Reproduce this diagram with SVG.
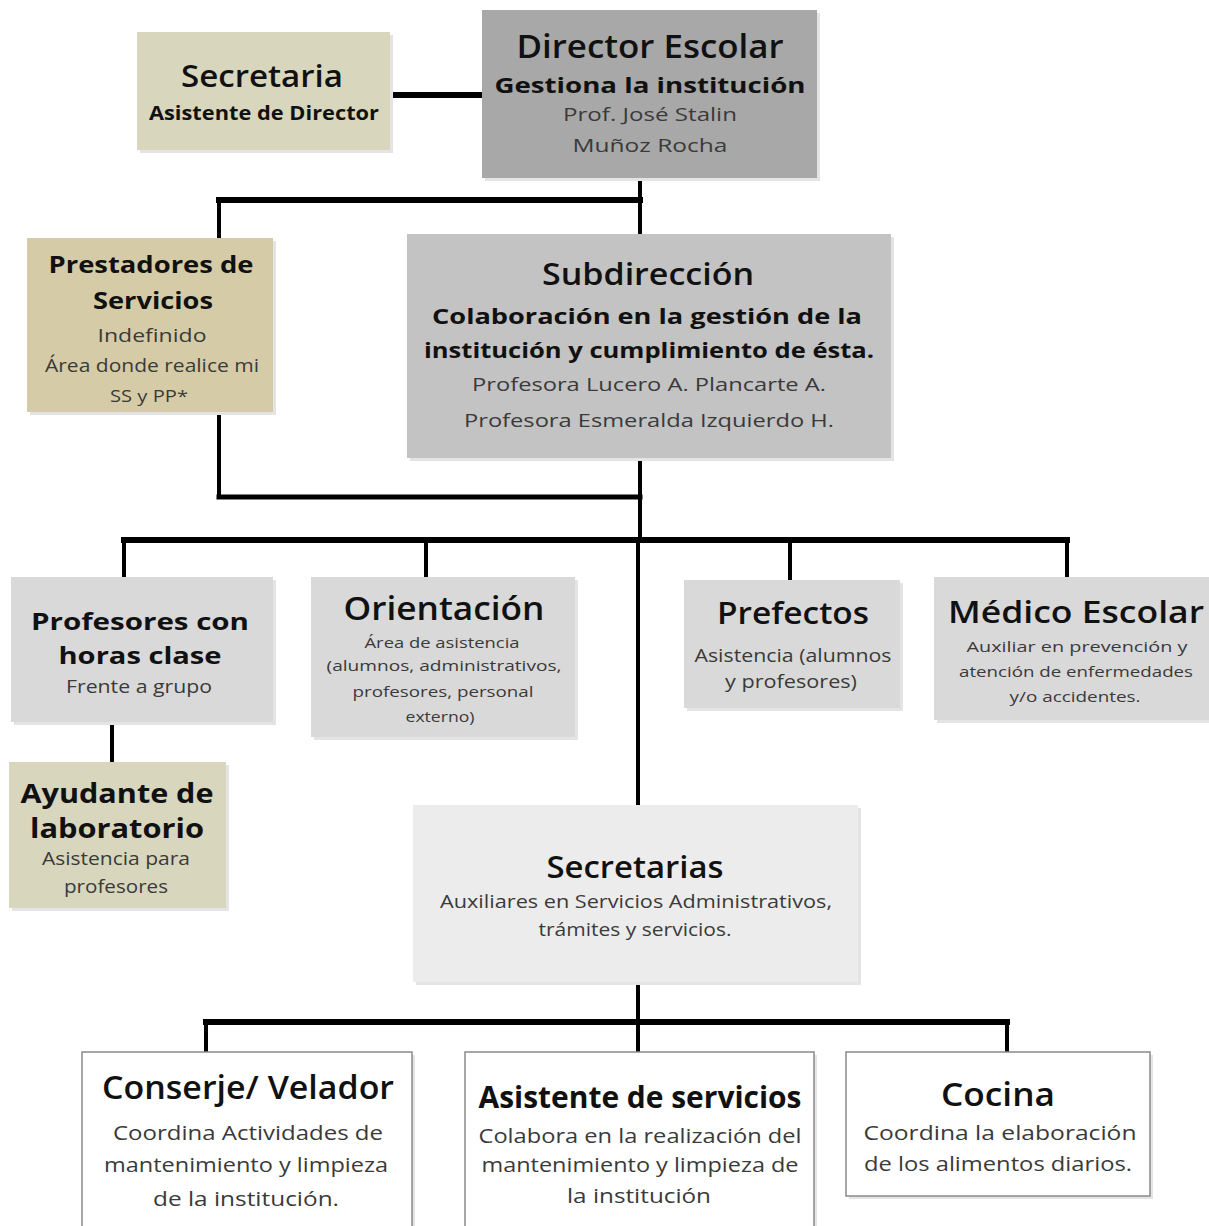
<svg xmlns="http://www.w3.org/2000/svg" width="1209" height="1226" viewBox="0 0 1209 1226">
<style>
.bg{fill:#ffffff}
.conn line{stroke:#000;stroke-width:5;stroke-linecap:square}
.conn .thin{stroke-width:4}
.t{font-family:"Open Sans","Noto Sans","Liberation Sans",sans-serif;text-anchor:middle}
.h{fill:#111;font-size:30px;font-weight:600}
.hb{fill:#111;font-size:24px;font-weight:bold}
.b{fill:#3a3a3a;font-size:19px}
.s{fill:#3a3a3a;font-size:15px}
.tan{fill:#d8d6bd}
.tan2{fill:#d5cca7}
.dark{fill:#a8a8a8}
.mid{fill:#c3c3c3}
.lg{fill:#d9d9d9}
.xl{fill:#ececec}
.wh{fill:#ffffff;stroke:#8a8a8a;stroke-width:1.5}
.sh{fill:#e4e4e4}
</style>
<rect class="bg" x="0" y="0" width="1209" height="1226"/>
<g id="connectors" class="conn">
<line x1="390" y1="95" x2="482" y2="95" style="stroke-width:6"/>
<line x1="640" y1="178" x2="640" y2="234" class="thin"/>
<line x1="219" y1="200" x2="640" y2="200" style="stroke-width:6"/>
<line x1="219" y1="200" x2="219" y2="238" class="thin"/>
<line x1="219" y1="412" x2="219" y2="497" class="thin"/>
<line x1="219" y1="497" x2="640" y2="497"/>
<line x1="640" y1="458" x2="640" y2="540" class="thin"/>
<line x1="124" y1="540" x2="1067" y2="540" style="stroke-width:6"/>
<line x1="124" y1="540" x2="124" y2="577" class="thin"/>
<line x1="426" y1="540" x2="426" y2="577" class="thin"/>
<line x1="790" y1="540" x2="790" y2="580" class="thin"/>
<line x1="1067" y1="540" x2="1067" y2="577" class="thin"/>
<line x1="638" y1="540" x2="638" y2="805" class="thin"/>
<line x1="112" y1="722" x2="112" y2="762" class="thin"/>
<line x1="638" y1="982" x2="638" y2="1052" class="thin"/>
<line x1="206" y1="1022" x2="1007" y2="1022" style="stroke-width:6"/>
<line x1="206" y1="1022" x2="206" y2="1052" class="thin"/>
<line x1="1007" y1="1022" x2="1007" y2="1052" class="thin"/>
</g>
<g id="secretaria">
<rect class="sh" x="140" y="35" width="253" height="118"/>
<rect class="tan" x="137" y="32" width="253" height="118"/>
<text class="t h" x="262" y="87" textLength="162" lengthAdjust="spacingAndGlyphs">Secretaria</text>
<text class="t hb" x="264" y="120" style="font-size:20px" textLength="230" lengthAdjust="spacingAndGlyphs">Asistente de Director</text>
</g>
<g id="director">
<rect class="sh" x="485" y="13" width="335" height="168"/>
<rect class="dark" x="482" y="10" width="335" height="168"/>
<text class="t h" x="650" y="58" style="font-size:32px" textLength="267" lengthAdjust="spacingAndGlyphs">Director Escolar</text>
<text class="t hb" x="650" y="93" style="font-size:22px" textLength="311" lengthAdjust="spacingAndGlyphs">Gestiona la institución</text>
<text class="t b" x="650" y="121" textLength="174" lengthAdjust="spacingAndGlyphs">Prof. José Stalin</text>
<text class="t b" x="650" y="152" textLength="155" lengthAdjust="spacingAndGlyphs">Muñoz Rocha</text>
</g>
<g id="prestadores">
<rect class="sh" x="30" y="241" width="246" height="174"/>
<rect class="tan2" x="27" y="238" width="246" height="174"/>
<text class="t hb" x="151" y="273" textLength="205" lengthAdjust="spacingAndGlyphs">Prestadores de</text>
<text class="t hb" x="153" y="309" textLength="120" lengthAdjust="spacingAndGlyphs">Servicios</text>
<text class="t b" x="152" y="342" textLength="109" lengthAdjust="spacingAndGlyphs">Indefinido</text>
<text class="t b" x="152" y="372" textLength="214" lengthAdjust="spacingAndGlyphs">Área donde realice mi</text>
<text class="t b" x="149" y="402" style="font-size:17px" textLength="78" lengthAdjust="spacingAndGlyphs">SS y PP*</text>
</g>
<g id="subdireccion">
<rect class="sh" x="410" y="237" width="484" height="224"/>
<rect class="mid" x="407" y="234" width="484" height="224"/>
<text class="t h" x="648" y="285" textLength="212" lengthAdjust="spacingAndGlyphs">Subdirección</text>
<text class="t hb" x="647" y="324" style="font-size:22px" textLength="430" lengthAdjust="spacingAndGlyphs">Colaboración en la gestión de la</text>
<text class="t hb" x="649" y="358" style="font-size:22px" textLength="450" lengthAdjust="spacingAndGlyphs">institución y cumplimiento de ésta.</text>
<text class="t b" x="649" y="391" textLength="354" lengthAdjust="spacingAndGlyphs">Profesora Lucero A. Plancarte A.</text>
<text class="t b" x="649" y="427" textLength="370" lengthAdjust="spacingAndGlyphs">Profesora Esmeralda Izquierdo H.</text>
</g>
<g id="profesores">
<rect class="sh" x="14" y="580" width="262" height="145"/>
<rect class="lg" x="11" y="577" width="262" height="145"/>
<text class="t hb" x="140" y="630" textLength="218" lengthAdjust="spacingAndGlyphs">Profesores con</text>
<text class="t hb" x="140" y="664" textLength="163" lengthAdjust="spacingAndGlyphs">horas clase</text>
<text class="t b" x="139" y="693" textLength="146" lengthAdjust="spacingAndGlyphs">Frente a grupo</text>
</g>
<g id="orientacion">
<rect class="sh" x="314" y="580" width="264" height="160"/>
<rect class="lg" x="311" y="577" width="264" height="160"/>
<text class="t h" x="444" y="620" style="font-size:32px" textLength="201" lengthAdjust="spacingAndGlyphs">Orientación</text>
<text class="t s" x="442" y="648" textLength="155" lengthAdjust="spacingAndGlyphs">Área de asistencia</text>
<text class="t s" x="444" y="671" textLength="235" lengthAdjust="spacingAndGlyphs">(alumnos, administrativos,</text>
<text class="t s" x="443" y="697" textLength="181" lengthAdjust="spacingAndGlyphs">profesores,  personal</text>
<text class="t s" x="440" y="722" textLength="69" lengthAdjust="spacingAndGlyphs">externo)</text>
</g>
<g id="prefectos">
<rect class="sh" x="687" y="583" width="216" height="128"/>
<rect class="lg" x="684" y="580" width="216" height="128"/>
<text class="t h" x="793" y="624" textLength="152" lengthAdjust="spacingAndGlyphs">Prefectos</text>
<text class="t b" x="793" y="662" textLength="197" lengthAdjust="spacingAndGlyphs">Asistencia (alumnos</text>
<text class="t b" x="791" y="688" textLength="132" lengthAdjust="spacingAndGlyphs">y profesores)</text>
</g>
<g id="medico">
<rect class="sh" x="937" y="580" width="272" height="143"/>
<rect class="lg" x="934" y="577" width="275" height="143"/>
<text class="t h" x="1076" y="623" textLength="256" lengthAdjust="spacingAndGlyphs">Médico Escolar</text>
<text class="t s" x="1077" y="652" textLength="221" lengthAdjust="spacingAndGlyphs">Auxiliar en prevención  y</text>
<text class="t s" x="1076" y="677" textLength="234" lengthAdjust="spacingAndGlyphs">atención de enfermedades</text>
<text class="t s" x="1075" y="702" textLength="131" lengthAdjust="spacingAndGlyphs">y/o accidentes.</text>
</g>
<g id="ayudante">
<rect class="sh" x="12" y="765" width="217" height="146"/>
<rect class="tan" x="9" y="762" width="217" height="146"/>
<text class="t hb" x="117" y="803" style="font-size:26px" textLength="193" lengthAdjust="spacingAndGlyphs">Ayudante de</text>
<text class="t hb" x="117" y="838" style="font-size:26px" textLength="174" lengthAdjust="spacingAndGlyphs">laboratorio</text>
<text class="t b" x="116" y="865" textLength="148" lengthAdjust="spacingAndGlyphs">Asistencia para</text>
<text class="t b" x="116" y="893" textLength="104" lengthAdjust="spacingAndGlyphs">profesores</text>
</g>
<g id="secretarias">
<rect class="sh" x="416" y="808" width="445" height="177"/>
<rect class="xl" x="413" y="805" width="445" height="177"/>
<text class="t h" x="635" y="878" textLength="177" lengthAdjust="spacingAndGlyphs">Secretarias</text>
<text class="t b" x="636" y="908" textLength="392" lengthAdjust="spacingAndGlyphs">Auxiliares en Servicios Administrativos,</text>
<text class="t b" x="635" y="936" textLength="193" lengthAdjust="spacingAndGlyphs">trámites y servicios.</text>
</g>
<g id="conserje">
<rect class="sh" x="85" y="1055" width="330" height="174"/>
<rect class="wh" x="82" y="1052" width="330" height="176"/>
<text class="t h" x="248" y="1099" style="font-size:32px" textLength="292" lengthAdjust="spacingAndGlyphs">Conserje/ Velador</text>
<text class="t b" x="248" y="1140" style="font-size:20px" textLength="270" lengthAdjust="spacingAndGlyphs">Coordina Actividades de</text>
<text class="t b" x="246" y="1172" style="font-size:20px" textLength="284" lengthAdjust="spacingAndGlyphs">mantenimiento y limpieza</text>
<text class="t b" x="246" y="1206" style="font-size:20px" textLength="186" lengthAdjust="spacingAndGlyphs">de la institución.</text>
</g>
<g id="asistente">
<rect class="sh" x="468" y="1055" width="349" height="174"/>
<rect class="wh" x="465" y="1052" width="349" height="176"/>
<text class="t hb" x="640" y="1108" style="font-size:30px" textLength="323" lengthAdjust="spacingAndGlyphs">Asistente de servicios</text>
<text class="t b" x="640" y="1143" style="font-size:20px" textLength="323" lengthAdjust="spacingAndGlyphs">Colabora en la realización del</text>
<text class="t b" x="640" y="1172" style="font-size:20px" textLength="317" lengthAdjust="spacingAndGlyphs">mantenimiento y limpieza de</text>
<text class="t b" x="639" y="1203" style="font-size:20px" textLength="144" lengthAdjust="spacingAndGlyphs">la institución</text>
</g>
<g id="cocina">
<rect class="sh" x="849" y="1055" width="304" height="144"/>
<rect class="wh" x="846" y="1052" width="304" height="144"/>
<text class="t h" x="998" y="1106" style="font-size:32px" textLength="114" lengthAdjust="spacingAndGlyphs">Cocina</text>
<text class="t b" x="1000" y="1140" style="font-size:20px" textLength="273" lengthAdjust="spacingAndGlyphs">Coordina la elaboración</text>
<text class="t b" x="998" y="1171" style="font-size:20px" textLength="268" lengthAdjust="spacingAndGlyphs">de los alimentos diarios.</text>
</g>
</svg>
